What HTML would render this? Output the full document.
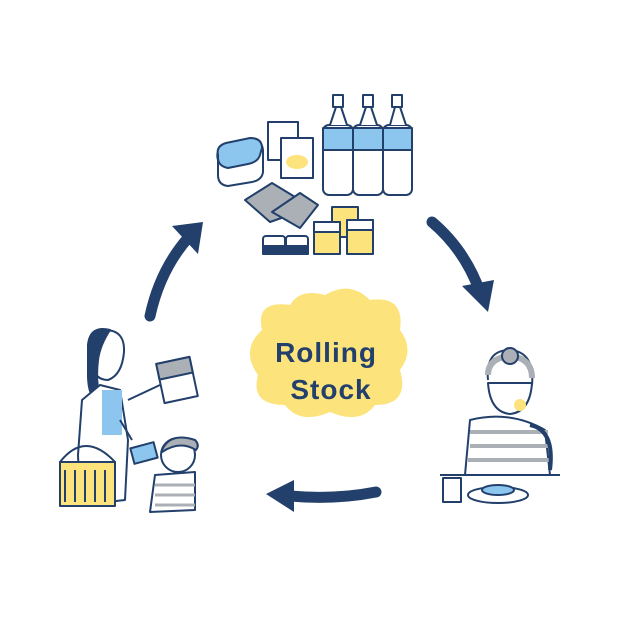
<!DOCTYPE html>
<html><head><meta charset="utf-8"><style>
html,body{margin:0;padding:0;background:#fff;width:626px;height:624px;overflow:hidden}
svg{display:block}
</style></head><body>
<svg width="626" height="624" viewBox="0 0 626 624" xmlns="http://www.w3.org/2000/svg">
<g fill="none" stroke="#22406b" stroke-linecap="round" stroke-linejoin="round">
<path d="M150 316 Q160 270 188 238" stroke-width="11"/>
<path d="M432 222 Q465 250 480 292" stroke-width="11"/>
<path d="M376 492 Q335 500 290 496" stroke-width="11"/>
</g>
<g fill="#22406b">
<polygon points="172,226 203,222 198,254"/>
<polygon points="462,286 494,280 488,312"/>
<polygon points="294,480 294,512 266,494"/>
</g>

<path d="M262 330 Q255 300 290 305 Q300 288 325 295 Q350 280 370 300 Q405 295 400 330 Q415 350 400 370 Q410 405 375 405 Q360 425 330 412 Q300 425 285 405 Q250 405 258 375 Q240 350 262 330Z" fill="#fde37c"/>
<text x="326" y="362" font-family="Liberation Sans, sans-serif" font-weight="bold" font-size="28" fill="#22406b" text-anchor="middle" letter-spacing="1">Rolling</text>
<text x="331" y="399" font-family="Liberation Sans, sans-serif" font-weight="bold" font-size="28" fill="#22406b" text-anchor="middle" letter-spacing="1">Stock</text>

<g stroke="#22406b" stroke-width="2" stroke-linejoin="round">
<g fill="#fff">
<rect x="323" y="125" width="30" height="70" rx="6"/>
<rect x="353" y="125" width="30" height="70" rx="6"/>
<rect x="383" y="125" width="29" height="70" rx="6"/>
<rect x="333" y="95" width="10" height="12" /><rect x="363" y="95" width="10" height="12"/><rect x="392" y="95" width="10" height="12"/>
<path d="M330 125 L336 107 H341 L347 125 M360 125 L366 107 H371 L377 125 M390 125 L395 107 H400 L406 125"/>
</g>
<g fill="#8cc6ee">
<rect x="323" y="128" width="30" height="22"/><rect x="353" y="128" width="30" height="22"/><rect x="383" y="128" width="29" height="22"/>
</g>
<path d="M218 160 Q215 150 225 146 L250 140 Q262 140 263 150 L263 172 Q262 180 252 182 L228 186 Q218 185 218 175Z" fill="#fff"/>
<path d="M218 155 Q216 146 226 143 L250 138 Q262 138 262 148 L260 155 Q258 162 248 164 L228 168 Q218 166 218 158Z" fill="#8cc6ee"/>
<rect x="268" y="122" width="30" height="38" fill="#fff"/>
<rect x="281" y="138" width="32" height="40" fill="#fff"/>
<ellipse cx="297" cy="162" rx="11" ry="7" fill="#fde37c" stroke="none"/>
<path d="M245 200 L272 183 L300 200 L290 215 L270 222 Z" fill="#aab0b5"/>
<path d="M272 212 L300 193 L318 205 L300 228 Z" fill="#aab0b5"/>
<rect x="263" y="236" width="22" height="18" rx="3" fill="#fff"/>
<rect x="286" y="236" width="22" height="18" rx="3" fill="#fff"/>
<rect x="263" y="246" width="45" height="8" fill="#22406b"/>
<rect x="332" y="207" width="26" height="30" fill="#fde37c"/>
<rect x="314" y="222" width="26" height="32" fill="#fde37c"/>
<rect x="347" y="220" width="26" height="34" fill="#fde37c"/>
<path d="M314 222 h26 v10 h-26z M347 220 h26 v10 h-26z" fill="#fff"/>
</g>

<g stroke="#22406b" stroke-width="2" stroke-linejoin="round">
<path d="M92 345 Q88 330 105 330 Q125 330 124 352 Q122 375 108 380 Q95 380 92 365Z" fill="#fff"/>
<path d="M88 345 Q90 325 110 330 Q100 345 98 360 Q95 385 102 405 Q88 400 88 375Z" fill="#22406b"/>
<path d="M100 385 L120 390 L128 440 L125 500 L80 505 L78 455 L82 400Z" fill="#fff"/>
<rect x="102" y="390" width="20" height="45" fill="#8cc6ee" stroke="none"/>
<path d="M128 400 L160 385 M120 420 L132 440" />
<rect x="160" y="360" width="34" height="40" fill="#fff" transform="rotate(-12 177 380)"/>
<rect x="160" y="360" width="34" height="16" fill="#aab0b5" transform="rotate(-12 177 380)"/>
<rect x="60" y="462" width="55" height="44" fill="#fde37c"/>
<path d="M65 470 v32 M75 470 v32 M85 470 v32 M95 470 v32 M105 470 v32" />
<path d="M60 462 Q85 430 115 462" fill="none"/>
<circle cx="178" cy="455" r="17" fill="#fff"/>
<path d="M162 450 Q170 432 195 440 Q200 445 196 450 Q180 440 162 452Z" fill="#aab0b5"/>
<path d="M155 475 L195 472 L195 510 L150 512Z" fill="#fff"/>
<path d="M155 485 h40 M155 495 h40 M155 505 h40" stroke="#aab0b5" stroke-width="3"/>
<rect x="132" y="445" width="24" height="16" fill="#8cc6ee" transform="rotate(-15 144 453)"/>
</g>

<g stroke="#22406b" stroke-width="2" stroke-linejoin="round">
<path d="M488 380 Q485 350 510 350 Q535 352 532 385" fill="#fff"/>
<path d="M488 375 Q488 358 510 356 Q532 358 532 378" stroke="#aab0b5" stroke-width="6" fill="none"/>
<circle cx="510" cy="356" r="8" fill="#aab0b5"/>
<path d="M488 383 Q490 412 510 414 Q530 412 532 383Z" fill="#fff"/>
<circle cx="520" cy="405" r="6" fill="#fde37c" stroke="none"/>
<path d="M470 420 Q510 410 545 430 L550 475 L465 475Z" fill="#fff"/>
<path d="M470 432 h78 M470 446 h78 M468 460 h82" stroke="#aab0b5" stroke-width="4"/>
<path d="M530 425 Q555 430 550 470" stroke="#22406b" stroke-width="4" fill="none"/>
<path d="M440 475 H560"/>
<rect x="443" y="478" width="18" height="24" fill="#fff"/>
<ellipse cx="498" cy="495" rx="30" ry="8" fill="#fff"/>
<ellipse cx="498" cy="490" rx="16" ry="5" fill="#8cc6ee"/>
</g>
</svg>
</body></html>
